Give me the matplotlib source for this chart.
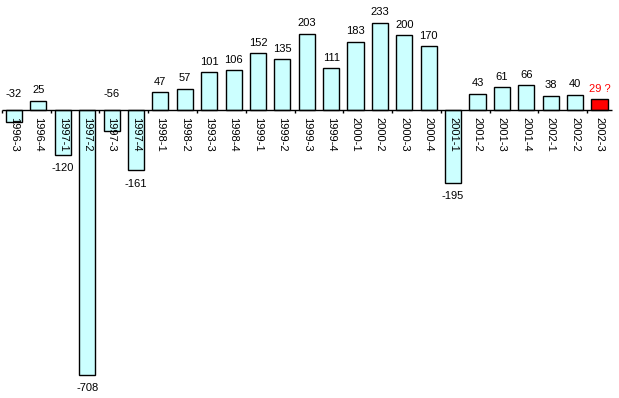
import matplotlib
matplotlib.use("Agg")
import matplotlib.pyplot as plt

plt.rcParams['font.family'] = ['Liberation Sans', 'DejaVu Sans']

# quarters (the "1993-3" typo is in the original chart)
quarters = ['1996-3', '1996-4', '1997-1', '1997-2', '1997-3', '1997-4',
            '1998-1', '1998-2', '1993-3', '1998-4', '1999-1', '1999-2',
            '1999-3', '1999-4', '2000-1', '2000-2', '2000-3', '2000-4',
            '2001-1', '2001-2', '2001-3', '2001-4', '2002-1', '2002-2',
            '2002-3']
values = [-32, 25, -120, -708, -56, -161, 47, 57, 101, 106, 152, 135,
          203, 111, 183, 233, 200, 170, -195, 43, 61, 66, 38, 40, 29]
value_labels = [str(v) for v in values[:-1]] + ['29 ?']

fig = plt.figure(figsize=(6.19, 3.98), dpi=100)
ax = fig.add_axes([0, 0, 1, 1])

n = len(values)
x = list(range(n))
colors = ['#CCFFFF'] * (n - 1) + ['#FF0000']
ax.bar(x, values, width=0.66, color=colors, edgecolor='black', linewidth=1, zorder=2)

# zero line with ticks every two categories
ax.hlines(0, -0.5, n - 0.5, color='black', linewidth=1, zorder=3)
for t in range(0, n + 1, 2):
    ax.vlines(t - 0.5, -8, 0, color='black', linewidth=1, zorder=3)

# category labels, rotated, just under the zero line
for i, q in enumerate(quarters):
    ax.annotate(q, (i, 0), xytext=(0, -5), textcoords='offset points',
                rotation=270, ha='center', va='top', fontsize=8, zorder=4)

# value labels
for i, (v, lab) in enumerate(zip(values, value_labels)):
    col = 'red' if i == n - 1 else 'black'
    if v >= 0:
        ax.annotate(lab, (i, v), xytext=(0, 4), textcoords='offset points',
                    ha='center', va='bottom', fontsize=8, color=col)
    elif v > -100:
        ax.annotate(lab, (i, 0), xytext=(0, 8), textcoords='offset points',
                    ha='center', va='bottom', fontsize=8, color=col)
    else:
        ax.annotate(lab, (i, v), xytext=(0, -6), textcoords='offset points',
                    ha='center', va='top', fontsize=8, color=col)

ax.set_xlim(-0.574, 24.8)
ax.set_ylim(-770, 294)
ax.axis('off')

fig.savefig('out.png', dpi=100, facecolor='white')
